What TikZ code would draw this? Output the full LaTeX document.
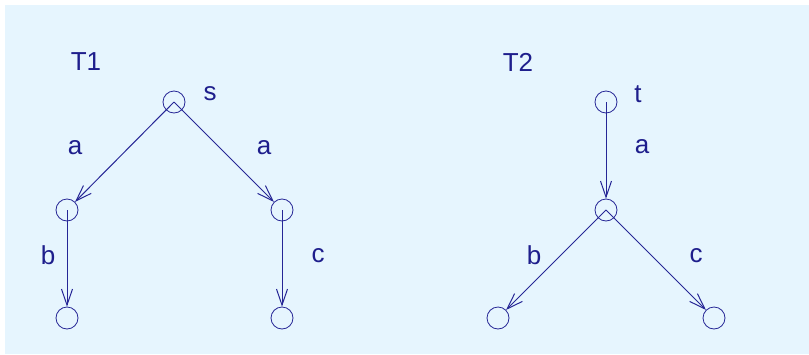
\documentclass[tikz,border=0pt]{standalone}
\usepackage{fontspec}
\setmainfont{Liberation Sans}
\usetikzlibrary{arrows.meta}
\definecolor{bgblue}{RGB}{230,245,254}
\definecolor{inkblue}{RGB}{38,38,150}
\definecolor{txtblue}{RGB}{30,30,140}
\tikzset{
  vert/.style={circle,draw=inkblue,line width=0.8pt,minimum size=22pt,inner sep=0pt},
  lbl/.style={inner sep=0pt,text=txtblue,font=\fontsize{26}{31}\selectfont},
  edge/.style={draw=inkblue,line width=1pt,-{Straight Barb[length=16pt,width=11pt]}}
}
\begin{document}
\begin{tikzpicture}[x=1pt,y=-1pt]
\useasboundingbox (0,0) rectangle (809,354);
\fill[bgblue] (5,5) rectangle (809,354);
% T1
\node[lbl] (T1) at (86,62) {T1};
\node[vert] (s) at (174,102) {};
\node[lbl] (ls) at (210,94) {s};
\node[vert] (l1) at (67,210) {};
\node[vert] (r1) at (282,210) {};
\node[vert] (l2) at (67,318) {};
\node[vert] (r2) at (282,318) {};
\draw[edge] (s.center) -- (l1);
\draw[edge] (s.center) -- (r1);
\draw[edge] (l1.center) -- (l2);
\draw[edge] (r1.center) -- (r2);
\node[lbl] (a1) at (75,148) {a};
\node[lbl] (a2) at (264,148) {a};
\node[lbl] (b1) at (48,255) {b};
\node[lbl] (c1) at (318,256) {c};
% T2
\node[lbl] (T2) at (518,62) {T2};
\node[vert] (t) at (606,102) {};
\node[lbl] (lt) at (638,94) {t};
\node[vert] (m) at (606,210) {};
\node[vert] (bl) at (498,318) {};
\node[vert] (br) at (714,318) {};
\draw[edge] (t.center) -- (m);
\draw[edge] (m.center) -- (bl);
\draw[edge] (m.center) -- (br);
\node[lbl] (a3) at (642,147) {a};
\node[lbl] (b2) at (534,255) {b};
\node[lbl] (c2) at (696,256) {c};
\end{tikzpicture}
\end{document}
